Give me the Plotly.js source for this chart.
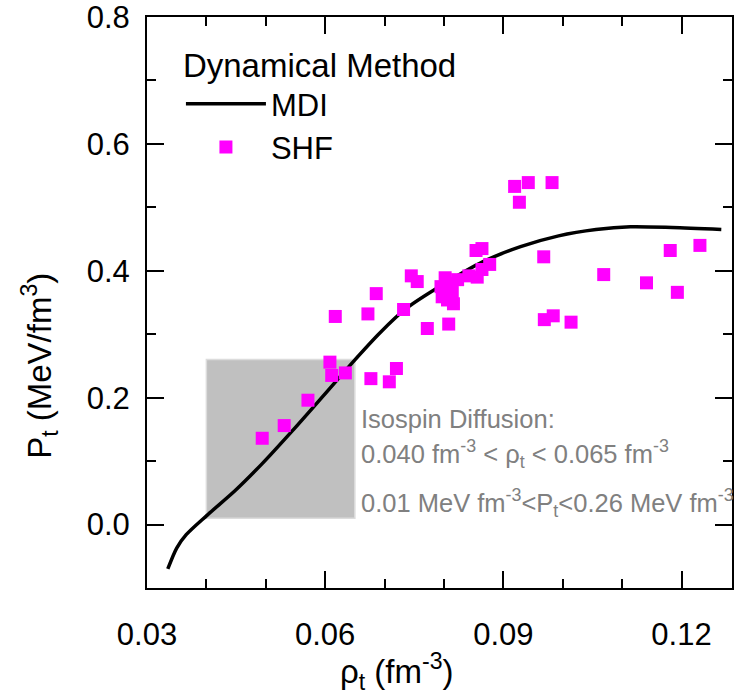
<!DOCTYPE html>
<html>
<head>
<meta charset="utf-8">
<script src="https://cdn.plot.ly/plotly-3.0.1.min.js"></script>
<style>html,body{margin:0;padding:0;background:#fff;}#chart{width:734px;height:698px;}</style>
</head>
<body>
<div id="chart"></div>
<script>
// MDI curve (dynamical method)
var mdiRho = [0.0335, 0.0350, 0.0366, 0.0401, 0.0449, 0.0494, 0.0545, 0.0596, 0.0647, 0.0692, 0.0737, 0.0801, 0.0865, 0.0929, 0.0993, 0.1056, 0.1114, 0.1184, 0.1267];
var mdiP   = [-0.070, -0.037, -0.016, 0.0145, 0.054, 0.096, 0.148, 0.202, 0.2565, 0.302, 0.341, 0.380, 0.414, 0.438, 0.455, 0.465, 0.4694, 0.4682, 0.4651];

// SHF points
var shfRho = [0.0494, 0.0531, 0.0571, 0.0608, 0.0611, 0.0634, 0.0617, 0.0672, 0.0677, 0.0686, 0.0708, 0.0720, 0.0732, 0.0745, 0.0755, 0.0772, 0.0808,
              0.0802, 0.0795, 0.0811, 0.0797, 0.0814, 0.0806, 0.0816, 0.0823, 0.0842, 0.0856, 0.0864, 0.0877, 0.0854, 0.0864,
              0.0919, 0.0942, 0.0982, 0.0927, 0.0968, 0.0969, 0.0984, 0.1014, 0.1069, 0.1141, 0.1181, 0.1193, 0.1231];
var shfP   = [0.136, 0.156, 0.196, 0.256, 0.235, 0.239, 0.328, 0.332, 0.230, 0.364, 0.225, 0.246, 0.339, 0.392, 0.383, 0.309, 0.316,
              0.389, 0.375, 0.380, 0.359, 0.367, 0.354, 0.348, 0.386, 0.392, 0.390, 0.402, 0.410, 0.432, 0.435,
              0.533, 0.539, 0.539, 0.508, 0.422, 0.323, 0.329, 0.319, 0.394, 0.381, 0.432, 0.366, 0.440];

// Isospin diffusion constraint box
var boxRho = [0.040, 0.065];
var boxP   = [0.01, 0.26];

var xTickVals = [0.03, 0.06, 0.09, 0.12];
var yTickVals = [0.0, 0.2, 0.4, 0.6, 0.8];

var annLines = [
  'Isospin Diffusion:',
  '0.040 fm<sup>-3</sup> < ρ<sub>t</sub> < 0.065 fm<sup>-3</sup>',
  '0.01 MeV fm<sup>-3</sup><P<sub>t</sub><0.26 MeV fm<sup>-3</sup>'
];
var annY = [0.167, 0.111, 0.034];

var xTitle = 'ρ<sub>t</sub> (fm<sup>-3</sup>)';
var yTitle = 'P<sub>t</sub> (MeV/fm<sup>3</sup>)';

var FONT = 'Arial, "Liberation Sans", sans-serif';

var traces = [
  {x: mdiRho, y: mdiP, type: 'scatter', mode: 'lines', name: 'MDI',
   line: {color: '#000000', width: 3.5, shape: 'spline', smoothing: 0.8}},
  {x: shfRho, y: shfP, type: 'scatter', mode: 'markers', name: 'SHF',
   marker: {symbol: 'square', color: '#ff00ff', size: 13, line: {width: 0}}}
];

var axisCommon = {
  showline: true, linecolor: '#000', linewidth: 2, mirror: 'ticks',
  ticks: 'inside', ticklen: 17, tickwidth: 2, tickcolor: '#000',
  showgrid: false, zeroline: false, ticklabeloverflow: 'allow',
  tickfont: {family: FONT, size: 31, color: '#000'}
};

var annotations = annLines.map(function(t, i){
  return {text: t, xref: 'x', yref: 'y', x: 0.0657, y: annY[i], xanchor: 'left', yanchor: 'middle',
          showarrow: false, font: {family: FONT, size: 25.5, color: '#808080'}};
});
annotations.push({text: xTitle, xref: 'paper', yref: 'paper', x: 0.427, y: -0.147, xanchor: 'center', yanchor: 'middle',
                  showarrow: false, font: {family: FONT, size: 33, color: '#000'}});
annotations.push({text: yTitle, xref: 'paper', yref: 'paper', x: -0.183, y: 0.389, xanchor: 'center', yanchor: 'middle',
                  textangle: -90, showarrow: false, font: {family: FONT, size: 33, color: '#000'}});

var layout = {
  width: 734, height: 698,
  margin: {l: 147, r: 2, t: 17, b: 110},
  paper_bgcolor: '#fff', plot_bgcolor: '#fff',
  font: {family: FONT, color: '#000'},
  xaxis: Object.assign({}, axisCommon, {
    range: [0.03, 0.1285], tickvals: xTickVals, ticktext: xTickVals.map(function(v){return v.toFixed(2);}),
    ticklabelstandoff: 18,
    minor: {dtick: 0.01, tick0: 0.03, ticks: 'inside', ticklen: 9, tickwidth: 2, tickcolor: '#000'}
  }),
  yaxis: Object.assign({}, axisCommon, {
    range: [-0.1, 0.8], tickvals: yTickVals, ticktext: yTickVals.map(function(v){return v.toFixed(1);}),
    ticklabelstandoff: 9,
    minor: {dtick: 0.1, tick0: 0, ticks: 'inside', ticklen: 9, tickwidth: 2, tickcolor: '#000'}
  }),
  shapes: [{
    type: 'rect', xref: 'x', yref: 'y', layer: 'below',
    x0: boxRho[0], x1: boxRho[1], y0: boxP[0], y1: boxP[1],
    fillcolor: '#c0c0c0', line: {color: '#dcdcdc', width: 1.5}
  }],
  annotations: annotations,
  showlegend: true,
  legend: {
    x: 0.058, y: 0.97, xanchor: 'left', yanchor: 'top',
    bgcolor: 'rgba(0,0,0,0)', borderwidth: 0,
    font: {family: FONT, size: 31, color: '#000'},
    title: {text: 'Dynamical Method', font: {family: FONT, size: 33, color: '#000'}, side: 'top'},
    itemwidth: 80, tracegroupgap: 0
  }
};

Plotly.newPlot('chart', traces, layout, {displayModeBar: false, staticPlot: true});
</script>
</body>
</html>
